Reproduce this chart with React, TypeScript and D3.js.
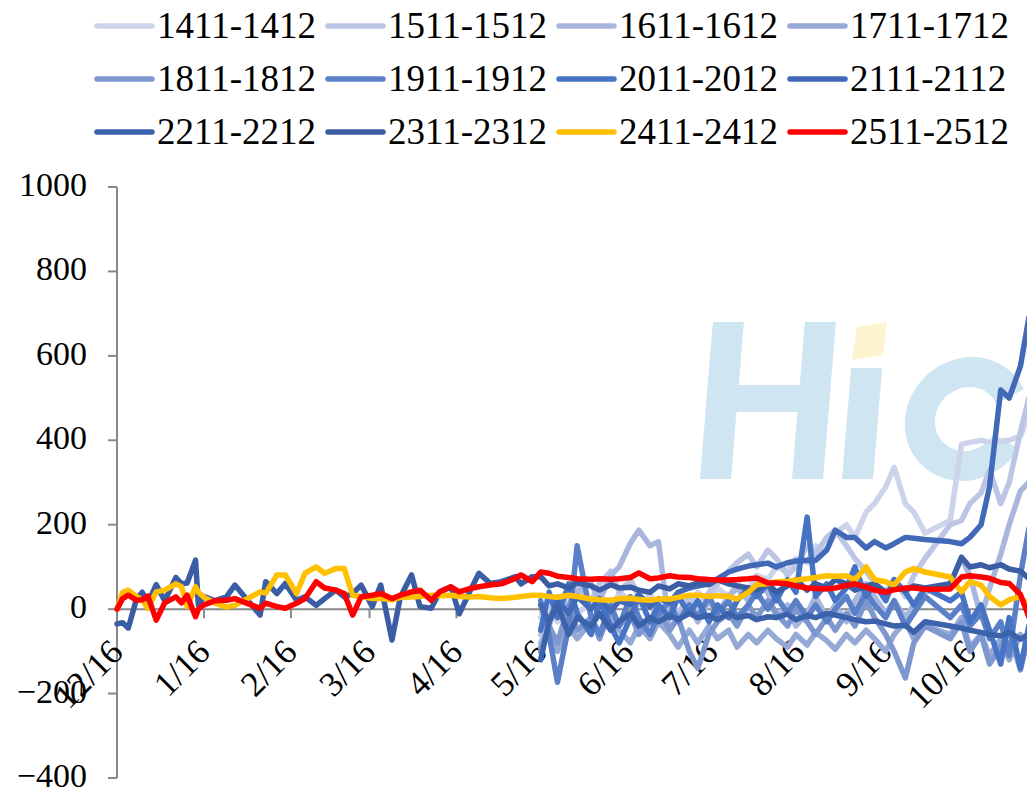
import React from "react";
import * as d3 from "d3";

// trading dates (shown as MM/DD) – the first block only carries the three long series
const earlyDates = [
  "12/16", "12/18", "12/20", "12/23", "12/25", "12/27", "12/30", "1/2", "1/6", "1/8",
  "1/10", "1/13", "1/14", "1/16", "1/20", "1/24", "1/27", "2/5", "2/7", "2/11",
  "2/14", "2/18", "2/21", "2/25", "2/28", "3/4", "3/7", "3/10", "3/13", "3/17",
  "3/20", "3/24", "3/27", "3/31", "4/3", "4/7", "4/10", "4/14", "4/17", "4/21",
  "4/24", "4/28", "5/2", "5/7", "5/9", "5/13",
];
const lateDates = [
  "5/16", "5/19", "5/22", "5/26", "5/29", "6/3", "6/6", "6/10", "6/13", "6/17",
  "6/20", "6/24", "6/27", "7/1", "7/4", "7/8", "7/11", "7/15", "7/18", "7/22",
  "7/25", "7/29", "8/1", "8/5", "8/8", "8/12", "8/15", "8/19", "8/22", "8/26",
  "8/29", "9/2", "9/5", "9/9", "9/12", "9/16", "9/19", "9/23", "9/26", "9/30",
  "10/9", "10/13", "10/16", "10/20", "10/23", "10/27", "10/30", "11/3", "11/6",
];

const seriesNames = [
  "1411-1412", "1511-1512", "1611-1612", "1711-1712",
  "1811-1812", "1911-1912", "2011-2012", "2111-2112",
  "2211-2212", "2311-2312", "2411-2412", "2511-2512",
];
const seriesColors = [
  "#CDD3EA", "#BCC5E3", "#A9B6DD", "#96A8D6",
  "#7E97CF", "#5B80C8", "#4673C4", "#4169B7",
  "#3C62AB", "#3A5DA3", "#FFC000", "#FF0000",
];

const xTickLabels = ["12/16", "1/16", "2/16", "3/16", "4/16", "5/16", "6/16", "7/16", "8/16", "9/16", "10/16"];
const yTicks = [-400, -200, 0, 200, 400, 600, 800, 1000];

// series that start on 5/16
const v1411 = [-20, 10, -30, 20, -10, 15, 30, -5, 40, 20, 10, 35, 5, -15, 25, 10, 40, 20, 50, 30, 60, 45, 80, 70, 100, 90, 120, 110, 150, 140, 180, 200, 170, 230, 250, 290, 336, 250, 230, 180, 210, 390, 395, 400, 395, 398, 400, 410, 460];
const v1511 = [-60, -20, 30, -10, 50, 20, 60, 90, 40, 70, 30, 10, -20, 20, -10, 30, 0, 40, 60, 90, 110, 130, 100, 140, 120, 80, 100, 150, 130, 170, 187, 150, 120, 90, 60, 40, 70, 30, 80, 120, 200, 210, 250, 275, 330, 250, 300, 420, 500];
const v1611 = [-80, -40, 20, -30, 40, 60, 20, 80, 100, 156, 187, 150, 160, -50, -20, 10, -30, 20, -10, 30, 50, 20, 60, 40, -20, 10, -40, -10, 30, -20, 10, -30, 20, 60, 30, -10, 20, -20, 10, 40, 60, 120, 80, -20, 50, 130, 200, 280, 300];
const v1711 = [-90, -60, -100, -40, -70, -30, -60, -20, -50, -80, -40, -70, -30, -60, -90, -50, -80, -40, -70, -50, -90, -60, -80, -50, -70, -90, -60, -85, -55, -75, -95, -60, -80, -50, -70, -100, -60, -30, -70, -40, -60, -20, -90, -60, -110, -70, -120, -60, -90];
const v1811 = [-100, -40, -80, 10, -50, -20, -70, 0, -40, -10, -60, -30, 0, -50, -20, -100, -140, -60, -30, -10, -40, 10, -20, 20, -10, -40, 0, -30, -60, -20, -50, -10, -40, 20, -20, -60, -100, -163, -80, -40, -70, -30, -100, -60, -130, -90, -50, -144, -60];
const v1911 = [20, -60, -173, -40, 150, -20, -60, 10, -40, 30, -20, -60, -10, 20, -30, 10, -20, 30, -10, 20, -20, 10, 40, 0, 30, -10, 20, -20, 10, -30, 0, 30, -10, 40, 10, -20, 20, -40, -10, 30, -20, 10, -40, -10, -70, -30, -110, 80, 190];
const v2011 = [-50, 40, -20, 60, -10, -60, 20, -40, -80, -20, 30, -30, 10, -20, 30, -10, 20, -30, 10, -20, 20, 50, 30, 60, 20, 70, 40, 218, 30, 60, 20, 50, 100, 30, 60, 20, 70, 40, 10, 50, 20, 40, -30, 10, -50, -130, -20, -140, -40];
const v2111 = [10, -30, 20, -10, 30, 0, 25, -5, 20, 10, 35, 5, 25, 15, 40, 50, 55, 60, 72, 88, 95, 102, 105, 109, 100, 110, 114, 116, 115, 140, 187, 170, 170, 145, 160, 145, 155, 170, 168, 165, 160, 155, 170, 200, 290, 519, 500, 575, 690];
const v2211 = [-120, -30, 10, -60, -20, -40, -10, -50, -30, -10, -40, -20, -30, -15, -25, -10, -20, -15, -25, -10, -20, -15, -25, -18, -20, -12, -25, -15, -20, -10, -14, -20, -25, -30, -28, -35, -40, -38, -55, -30, -40, -45, -50, -55, -60, -63, -55, -71, -60];

// series that run from 12/16
const v2311Early = [-35, -32, -45, 25, 40, 15, 58, 20, 75, 60, 62, 116, 10, 30, 20, 29, 57, -14, 65, 37, 61, 21, 29, 9, 25, 45, 29, 37, 57, 6, 57, -73, 29, 81, 6, 2, 40, 53, -11, 45, 85, 61, 65, 77, 60, 77];
const v2311Late = [77, 55, 60, 50, 62, 55, 45, 58, 50, 52, 45, 40, 55, 48, 60, 55, 62, 58, 70, 60, 55, 50, 45, 60, 40, 55, 70, 45, 60, 50, 70, 60, 45, 55, 60, 40, 50, 45, 55, 50, 60, 123, 100, 105, 98, 105, 95, 90, 73];
const v2411Early = [0, 40, 45, 30, 21, 2, 41, 45, 60, 53, 6, 53, 40, 28, 14, 5, 9, 41, 38, 81, 81, 37, 85, 100, 85, 96, 96, 33, 30, 25, 25, 22, 28, 29, 30, 33, 32, 33, 30, 29, 30, 27, 25, 28, 30, 33];
const v2411Late = [33, 30, 28, 33, 30, 24, 22, 21, 25, 26, 23, 21, 24, 24, 28, 33, 33, 30, 32, 30, 24, 40, 58, 60, 65, 66, 69, 72, 75, 79, 78, 79, 69, 100, 70, 65, 57, 88, 96, 88, 76, 41, 65, 57, 30, 10, 22, 30, 5];
const v2511Early = [0, 25, 33, 21, 22, 31, -26, 15, 29, 15, 33, -18, 0, 10, 20, 21, 25, 2, 14, 6, 2, 14, 25, 65, 50, 45, 37, -14, 29, 33, 37, 25, 33, 41, 45, 21, 41, 53, 41, 49, 53, 57, 60, 73, 81, 65];
const v2511Late = [88, 85, 78, 75, 72, 71, 72, 71, 72, 75, 86, 72, 74, 79, 76, 75, 72, 70, 69, 69, 70, 72, 74, 62, 62, 60, 55, 50, 49, 48, 50, 56, 60, 52, 45, 40, 46, 50, 50, 47, 48, 76, 79, 76, 73, 63, 61, 35, -18];

function parseDay(s: string) {
  const [m, d] = s.split("/").map(Number);
  return new Date(m === 12 ? 2024 : 2025, m - 1, d);
}

const allDates = [...earlyDates, ...lateDates];
const seriesValues = [
  v1411, v1511, v1611, v1711, v1811, v1911, v2011, v2111, v2211,
  [...v2311Early, ...v2311Late],
  [...v2411Early, ...v2411Late],
  [...v2511Early, ...v2511Late],
];

const FONT = "'Liberation Serif', 'Times New Roman', serif";

function Watermark() {
  const ring = d3.arc()({
    innerRadius: 32,
    outerRadius: 62,
    startAngle: Math.PI / 2 + 0.5,
    endAngle: Math.PI / 2 - 0.5 + Math.PI * 2,
  });
  return (
    <g>
      <g fill="#CFE5F2" transform="translate(0,479) skewX(-4.7) translate(0,-479)">
        <rect x={700} y={322} width={31} height={157} />
        <rect x={792} y={322} width={31} height={157} />
        <rect x={700} y={385} width={123} height={27} />
        <rect x={842} y={368} width={31} height={111} />
        <path d={ring ?? ""} transform="translate(962,419)" />
      </g>
      <polygon points="857,327 887,322 883,355 852,360" fill="#FEF3CF" />
    </g>
  );
}

export default function App() {
  const width = 1027;
  const height = 794;

  const x = d3.scaleTime().domain([parseDay("12/16"), parseDay("11/5")]).range([117, 1026]);
  const y = d3.scaleLinear().domain([-400, 1000]).range([778, 187]);

  const line = d3
    .line<[Date, number]>()
    .x(d => x(d[0]))
    .y(d => y(d[1]));

  const series = seriesNames.map((name, i) => {
    const vals = seriesValues[i];
    const ds = vals.length === allDates.length ? allDates : lateDates;
    const pts: [Date, number][] = vals.map((v, j) => [parseDay(ds[j]), v]);
    return { name, color: seriesColors[i], path: line(pts) ?? "" };
  });

  const axisColor = "#898989";
  const y0 = y(0);

  return (
    <svg
      width={width}
      height={height}
      style={{ position: "absolute", left: 0, top: 0, background: "#fff" }}
    >
      <rect width={width} height={height} fill="#fff" />
      <Watermark />

      {/* y axis */}
      <line x1={117} x2={117} y1={y(1000)} y2={y(-400)} stroke={axisColor} strokeWidth={2} />
      {yTicks.map(t => (
        <g key={t}>
          <line x1={108} x2={117} y1={y(t)} y2={y(t)} stroke={axisColor} strokeWidth={2} />
          <text x={87} y={y(t) + 9} textAnchor="end" fontFamily={FONT} fontSize={34} fill="#000">
            {t < 0 ? "\u2212" + Math.abs(t) : t}
          </text>
        </g>
      ))}

      {/* x axis on the zero line */}
      <line x1={117} x2={width} y1={y0} y2={y0} stroke={axisColor} strokeWidth={2} />
      {xTickLabels.map(l => {
        const px = x(parseDay(l));
        return (
          <g key={l}>
            <line x1={px} x2={px} y1={y0} y2={y0 + 9} stroke={axisColor} strokeWidth={2} />
            <text
              transform={`translate(${px + 8},${y0 + 45}) rotate(-45)`}
              textAnchor="end"
              fontFamily={FONT}
              fontSize={35}
              fill="#000"
            >
              {l}
            </text>
          </g>
        );
      })}

      {/* series */}
      {series.map(s => (
        <path
          key={s.name}
          d={s.path}
          fill="none"
          stroke={s.color}
          strokeWidth={5.5}
          strokeLinejoin="round"
          strokeLinecap="round"
        />
      ))}

      {/* legend */}
      {series.map((s, i) => {
        const col = i % 4;
        const row = Math.floor(i / 4);
        const lx = 97 + col * 231;
        const ly = 26 + row * 53;
        return (
          <g key={"lg" + s.name}>
            <line x1={lx} x2={lx + 55} y1={ly} y2={ly} stroke={s.color} strokeWidth={5.5} strokeLinecap="round" />
            <text x={lx + 60} y={ly + 12} fontFamily={FONT} fontSize={37} fill="#000">
              {s.name}
            </text>
          </g>
        );
      })}
    </svg>
  );
}
